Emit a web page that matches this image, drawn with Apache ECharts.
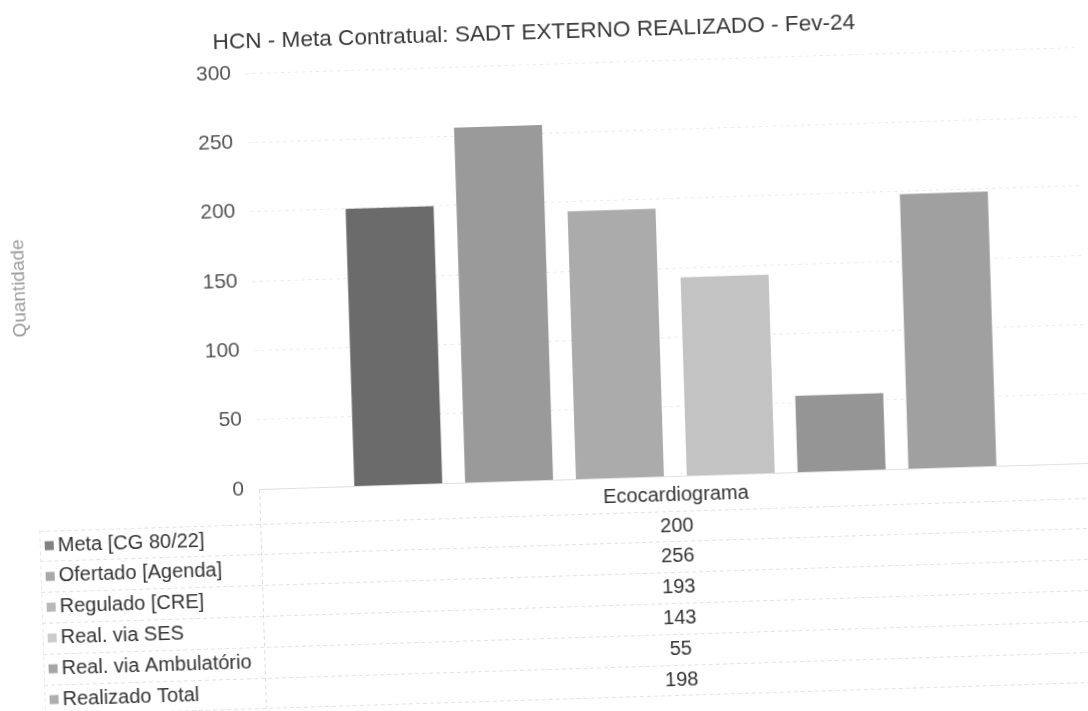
<!DOCTYPE html>
<html><head><meta charset="utf-8">
<script src="https://cdn.jsdelivr.net/npm/echarts@6/dist/echarts.min.js"></script>
<style>
html,body{margin:0;padding:0;background:#fff;overflow:hidden;width:1088px;height:711px}
#c{width:1088px;height:711px;transform:rotate(-1.8deg);transform-origin:544px 355px;background:#fff}
</style>
</head><body><div id="c"></div>
<script>
const categories = ['Ecocardiograma'];
const seriesNames = ['Meta [CG 80/22]','Ofertado [Agenda]','Regulado [CRE]','Real. via SES','Real. via Ambulatório','Realizado Total'];
const seriesValues = [[200],[256],[193],[143],[55],[198]];
const colors = ['#6b6b6b','#9a9a9a','#ababab','#c3c3c3','#959595','#a0a0a0'];
const yTicks = {min:0, max:300, interval:50};

const chart = echarts.init(document.getElementById('c'));
const gridTop = 64, gridBottom = 231, gridLeft = 255, gridWidth = 840;
const rowH = 30.8, rowStart = 530, tableLeft = 34, tableRight = 1100;
const FONT = 'Liberation Sans';

const option = {
  animation:false,
  color: colors,
  title:{text:'HCN - Meta Contratual: SADT EXTERNO REALIZADO - Fev-24', left:'center', top:16,
    textStyle:{fontFamily:FONT, fontSize:22.6, fontWeight:'normal', color:'#3a3a3a'}},
  grid:{left:gridLeft, width:gridWidth, top:gridTop, bottom:gridBottom},
  legend:{orient:'vertical', left:39, top:rowStart - rowH/2, padding:0, itemGap:0, itemWidth:9, itemHeight:9, icon:'rect',
    itemStyle:{opacity:0.85},
    textStyle:{fontFamily:FONT, fontSize:20, color:'#333', lineHeight:rowH, padding:[0,0,0,-1]}, data: seriesNames},
  xAxis:{type:'category', data:categories, axisLine:{show:true, lineStyle:{color:'#e0e0e0'}}, axisTick:{show:false},
    axisLabel:{fontFamily:FONT, fontSize:20, color:'#333', margin:9}},
  yAxis:{type:'value', min:yTicks.min, max:yTicks.max, interval:yTicks.interval,
    name:'Quantidade', nameLocation:'middle', nameGap:224, nameRotate:90,
    nameTextStyle:{fontFamily:FONT, fontSize:19, color:'#9a9a9a'},
    axisLabel:{fontFamily:FONT, fontSize:21, color:'#555', margin:15},
    splitLine:{lineStyle:{color:'#ebebeb', type:[3,4]}}},
  series: seriesNames.map((n,i)=>({name:n, type:'bar', data:seriesValues[i], barWidth:88, barGap:'26%'}))
};
chart.setOption(option);

const cx = chart.convertToPixel({xAxisIndex:0}, categories[0]);
const g = [];
for (let r=0;r<=6;r++){
  const y = Math.round(rowStart - rowH/2 + r*rowH) + 0.5;
  g.push({type:'line', shape:{x1:tableLeft,y1:y,x2:tableRight,y2:y}, style:{stroke:'#e3e3e3', lineWidth:1, lineDash:[4,3]}});
}
const yEnd = rowStart - rowH/2 + 6*rowH;
g.push({type:'line', shape:{x1:gridLeft+0.5,y1:gridTop + (711-gridTop-gridBottom),x2:gridLeft+0.5,y2:yEnd}, style:{stroke:'#dedede', lineWidth:1, lineDash:[4,3]}});
g.push({type:'line', shape:{x1:tableLeft+0.5,y1:rowStart - rowH/2,x2:tableLeft+0.5,y2:yEnd}, style:{stroke:'#e8e8e8', lineWidth:1, lineDash:[4,3]}});
seriesValues.forEach((v,i)=>{
  g.push({type:'text', x:cx, y:rowStart + i*rowH, style:{text:String(v[0]), align:'center', verticalAlign:'middle',
    font:'20px "Liberation Sans"', fill:'#333'}});
});
chart.setOption({graphic:g});
</script></body></html>
